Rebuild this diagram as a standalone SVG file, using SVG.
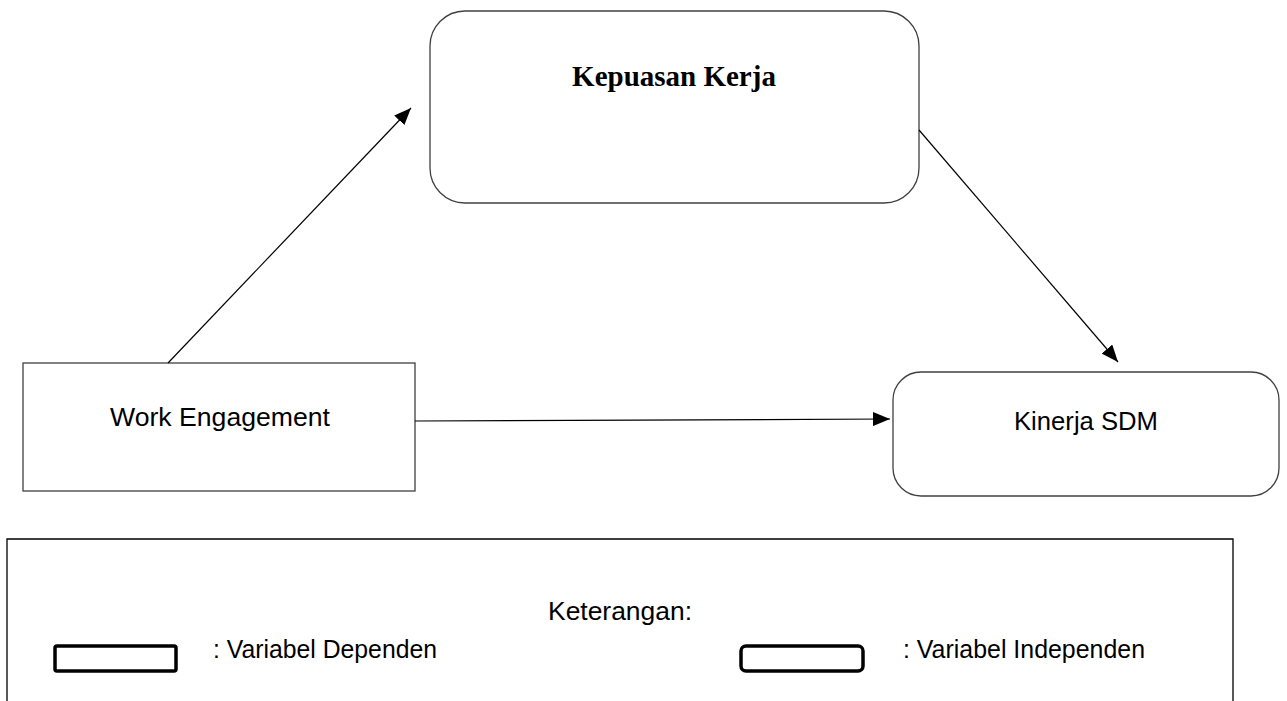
<svg xmlns="http://www.w3.org/2000/svg" width="1287" height="701" viewBox="0 0 1287 701">
<style>
.box{fill:#fff;stroke:#404040;stroke-width:1.3}
.lbl{font-family:"Liberation Sans",Arial,sans-serif;font-size:26px;fill:#000}
.bold{font-family:"Liberation Serif","Times New Roman",serif;font-size:29px;font-weight:bold;fill:#000}
.conn{stroke:#000;stroke-width:1.2;fill:none;marker-end:url(#ah)}
.key{fill:#fff;stroke:#000;stroke-width:3.5}
</style>
<defs>
<marker id="ah" markerUnits="userSpaceOnUse" markerWidth="18" markerHeight="14" refX="17" refY="7" orient="auto">
<path d="M0,0 L17,7 L0,14 z" fill="#000"/>
</marker>
</defs>
<rect width="1287" height="701" fill="#fff"/>
<g id="kepuasan-kerja">
<rect class="box" x="430" y="11" width="489" height="192" rx="35" ry="35"/>
<text class="bold" x="674" y="86" text-anchor="middle">Kepuasan Kerja</text>
</g>
<g id="work-engagement">
<rect class="box" x="23" y="363" width="392" height="128"/>
<text class="lbl" x="220" y="426" text-anchor="middle" textLength="220" lengthAdjust="spacingAndGlyphs">Work Engagement</text>
</g>
<g id="kinerja-sdm">
<rect class="box" x="893" y="372" width="386" height="124" rx="28" ry="28"/>
<text class="lbl" x="1086" y="430" text-anchor="middle" textLength="144" lengthAdjust="spacingAndGlyphs">Kinerja SDM</text>
</g>
<g id="connectors">
<line class="conn" x1="168" y1="363" x2="411" y2="108"/>
<line class="conn" x1="919" y1="130" x2="1118" y2="362"/>
<line class="conn" x1="415" y1="421" x2="890" y2="419"/>
</g>
<g id="legend">
<path d="M7,701 V539 H1233 V701" fill="none" stroke="#000" stroke-width="1.3"/>
<text class="lbl" x="548" y="620" textLength="144" lengthAdjust="spacingAndGlyphs">Keterangan:</text>
<rect class="key" x="55" y="646" width="121" height="25" rx="2"/>
<text class="lbl" x="213" y="658" textLength="224" lengthAdjust="spacingAndGlyphs">: Variabel Dependen</text>
<rect class="key" x="741" y="646" width="122" height="25" rx="5" stroke-width="4"/>
<text class="lbl" x="903" y="658" textLength="242" lengthAdjust="spacingAndGlyphs">: Variabel Independen</text>
</g>
</svg>
